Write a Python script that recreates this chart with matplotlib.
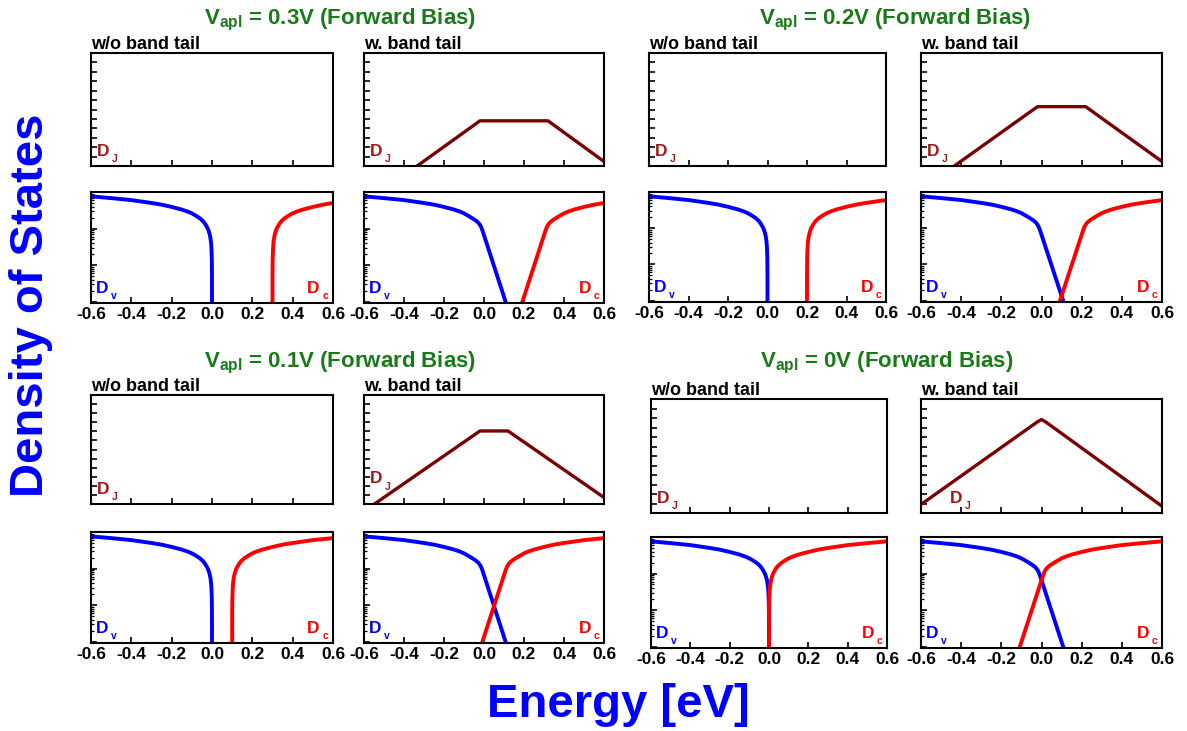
import matplotlib
matplotlib.use("Agg")
import matplotlib.pyplot as plt
from matplotlib.ticker import FixedLocator, NullLocator, NullFormatter, FormatStrFormatter, LogLocator
from matplotlib.transforms import offset_copy

plt.rcParams['font.family'] = ['Liberation Sans', 'DejaVu Sans']
plt.rcParams['font.weight'] = 'bold'
plt.rcParams['mathtext.fontset'] = 'custom'
plt.rcParams['mathtext.rm'] = 'Liberation Sans:bold'
plt.rcParams['mathtext.bf'] = 'Liberation Sans:bold'
plt.rcParams['mathtext.it'] = 'Liberation Sans:bold'
plt.rcParams['axes.linewidth'] = 1.5

# ---------------------------------------------------------------- data
# applied forward bias of each group [V]
biases = [0.3, 0.2, 0.1, 0.0]
bias_labels = ["0.3V", "0.2V", "0.1V", "0V"]

# band DOS without tail: distance from the band edge into the band [eV]
edge_offset = [0.6, 0.5, 0.4, 0.3, 0.25, 0.2, 0.15, 0.12, 0.1, 0.08, 0.06,
               0.045, 0.035, 0.025, 0.018, 0.012, 0.008, 0.005, 0.003, 0.001,
               3e-4, 1e-4, 1e-5, 1e-6]
dos_sharp = [7.6e20, 6.8e20, 6.0e20, 5.0e20, 4.5e20, 3.9e20, 3.3e20, 2.9e20,
             2.6e20, 2.25e20, 1.9e20, 1.6e20, 1.36e20, 1.1e20, 9.1e19, 7.1e19,
             5.6e19, 4.2e19, 3.1e19, 1.6e19, 7.7e18, 3.9e18, 9.8e17, 2.4e17]

# band DOS with exponential band tail (negative offset = inside the gap)
tail_offset = [0.6, 0.5, 0.4, 0.3, 0.25, 0.2, 0.15, 0.12, 0.1, 0.08, 0.06,
               0.045, 0.035, 0.027, 0.02, 0.014, 0.008, 0.002, -0.11, -0.13]
dos_tail = [7.6e20, 6.8e20, 6.0e20, 5.0e20, 4.5e20, 3.9e20, 3.3e20, 2.9e20,
            2.6e20, 2.25e20, 1.93e20, 1.71e20, 1.55e20, 1.41e20, 1.25e20,
            1.09e20, 8.9e19, 7.1e19, 9.1e17, 4.2e17]

# joint DOS with band tail: corner energies [eV] and values
dj_energy = [
    [-0.40, -0.02, 0.32, 0.6],
    [-0.50, -0.02, 0.22, 0.6],
    [-0.60, -0.02, 0.12, 0.6],
    [-0.60, -0.02, 0.0, 0.02, 0.6],
]
dj_value = [
    [0.1, 6.3e4, 6.3e4, 3.0],
    [0.1, 2.0e6, 2.0e6, 3.0],
    [0.16, 1.1e8, 1.1e8, 5.2],
    [7.9, 4.0e9, 6.9e9, 4.0e9, 5.2],
]

energy_ticks = [-0.6, -0.4, -0.2, 0.0, 0.2, 0.4, 0.6]

# ---------------------------------------------------------------- layout
W, H = 1187, 731
fig = plt.figure(figsize=(W / 100, H / 100), dpi=100)

# pixel boxes: (left column x, right column x, top row y, bottom row y)
groups = [
    ((91, 333), (364, 604), (53, 166), (192, 303)),
    ((649, 886), (921, 1162), (53, 166), (192, 302)),
    ((91, 333), (364, 604), (395, 504), (532, 643)),
    ((651, 887), (921, 1162), (399, 513), (537, 648)),
]
title_pos = [(340, 24), (895, 24), (340, 367), (887, 367)]
# position of the D_J tag in the band-tail panels (axes fraction)
dj_tag_pos = [(0.025, 0.09), (0.025, 0.09), (0.025, 0.19), (0.12, 0.09)]

GREEN = '#1a7a1a'
BLUE = '#0000ff'
RED = '#ff0000'
DJ_LINE = '#780000'
DJ_TEXT = '#a01818'

D_SIZE = 12.5
SUB_SIZE = 7.5


def box(xr, yr):
    x0, x1 = xr
    y0, y1 = yr
    return [x0 / W, 1 - y1 / H, (x1 - x0) / W, (y1 - y0) / H]


def style(ax, top_row, show_xlabels):
    ax.set_xlim(-0.6, 0.6)
    ax.set_yscale('log')
    if top_row:
        ax.set_ylim(1, 1e12)
        ax.yaxis.set_major_locator(FixedLocator([10.0 ** k for k in range(13)]))
        ax.yaxis.set_minor_locator(NullLocator())
    else:
        ax.set_ylim(9.1e17, 1e21)
        ax.yaxis.set_major_locator(LogLocator(base=10))
        ax.yaxis.set_minor_locator(LogLocator(base=10, subs=range(2, 10)))
    ax.yaxis.set_major_formatter(NullFormatter())
    ax.yaxis.set_minor_formatter(NullFormatter())
    ax.xaxis.set_major_locator(FixedLocator(energy_ticks))
    ax.xaxis.set_minor_locator(NullLocator())
    ax.tick_params(axis='both', which='both', direction='in', top=False, right=False)
    ax.tick_params(axis='x', which='major', length=4, width=1.2, pad=3,
                   labelsize=12.5)
    ax.tick_params(axis='y', which='major', length=4, width=1.2)
    ax.tick_params(axis='y', which='minor', length=2.5, width=0.9)
    if show_xlabels:
        ax.xaxis.set_major_formatter(FormatStrFormatter('%.1f'))
    else:
        ax.xaxis.set_major_formatter(NullFormatter())


def dlabel(ax, x, y, sub, color, ha='left'):
    """'D' with a small, dropped subscript letter."""
    d_w = 0.722 * D_SIZE
    s_w = 0.556 * SUB_SIZE
    if ha == 'left':
        ax.text(x, y, 'D', transform=ax.transAxes, color=color,
                fontsize=D_SIZE, ha='left', va='baseline')
        tr = offset_copy(ax.transAxes, fig=fig, x=d_w + 1.8, y=-4.5,
                         units='points')
        ax.text(x, y, sub, transform=tr, color=color, fontsize=SUB_SIZE,
                ha='left', va='baseline')
    else:
        ax.text(x, y, sub, transform=offset_copy(ax.transAxes, fig=fig, x=0,
                                                 y=-4.5, units='points'),
                color=color, fontsize=SUB_SIZE, ha='right', va='baseline')
        tr = offset_copy(ax.transAxes, fig=fig, x=-(s_w + 1.8), y=0,
                         units='points')
        ax.text(x, y, 'D', transform=tr, color=color, fontsize=D_SIZE,
                ha='right', va='baseline')


for g, (xl, xr, yt, yb) in enumerate(groups):
    vb = biases[g]
    for col, xs in enumerate((xl, xr)):
        with_tail = col == 1
        ax_top = fig.add_axes(box(xs, yt))
        style(ax_top, True, False)
        ax_top.text(0, 1 + 4 / (yt[1] - yt[0]),
                    "w. band tail" if with_tail else "w/o band tail",
                    transform=ax_top.transAxes, fontsize=13, ha='left',
                    va='baseline')
        if with_tail:
            ax_top.plot(dj_energy[g], dj_value[g], color=DJ_LINE, lw=2.4,
                        solid_joinstyle='round')
            dlabel(ax_top, *dj_tag_pos[g], 'J', DJ_TEXT)
        else:
            dlabel(ax_top, 0.025, 0.09, 'J', DJ_TEXT)

        ax_bot = fig.add_axes(box(xs, yb))
        style(ax_bot, False, True)
        offs = tail_offset if with_tail else edge_offset
        dos = dos_tail if with_tail else dos_sharp
        ax_bot.plot([-o for o in offs], dos, color=BLUE, lw=2.8,
                    solid_joinstyle='round')
        ax_bot.plot([vb + o for o in offs], dos, color=RED, lw=2.8,
                    solid_joinstyle='round')
        dlabel(ax_bot, 0.02, 0.09, 'v', BLUE)
        dlabel(ax_bot, 0.98, 0.09, 'c', RED, ha='right')

    tx, ty = title_pos[g]
    fig.text(tx / W, 1 - ty / H,
             r"$\mathbf{V}_{\mathbf{apl}}$ = %s (Forward Bias)" % bias_labels[g],
             color=GREEN, fontsize=16, ha='center', va='baseline')

fig.text(31 / W, 1 - 305 / H, "Density of States", rotation=90, color=BLUE,
         fontsize=34, ha='center', va='center')
fig.text(618 / W, 1 - 705 / H, "Energy [eV]", color=BLUE, fontsize=34,
         ha='center', va='center')

fig.savefig("out.png", dpi=100, facecolor='white')
